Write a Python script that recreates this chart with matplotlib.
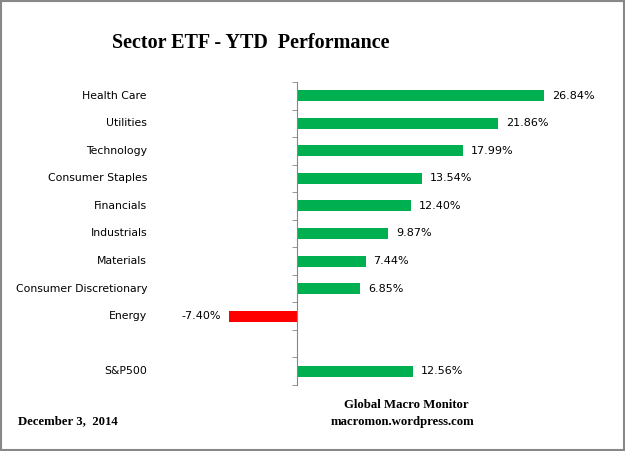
import matplotlib.pyplot as plt
from matplotlib.patches import Rectangle
import matplotlib.transforms as mtransforms

# Data
sectors = ["Health Care", "Utilities", "Technology", "Consumer Staples", "Financials",
           "Industrials", "Materials", "Consumer Discretionary", "Energy"]
sector_ytd = [26.84, 21.86, 17.99, 13.54, 12.40, 9.87, 7.44, 6.85, -7.40]
benchmark = "S&P500"
benchmark_ytd = 12.56

GREEN = "#00B050"
RED = "#FF0000"

fig = plt.figure(figsize=(6.25, 4.51), dpi=100)
ax = fig.add_axes([0.2688, 1 - 385 / 451, 0.6928, 303 / 451])

# one empty slot between the sectors and the benchmark
labels = sectors + ["", benchmark]
values = sector_ytd + [None, benchmark_ytd]
n = len(labels)

for i, (lab, val) in enumerate(zip(labels, values)):
    if val is None:
        continue
    color = GREEN if val >= 0 else RED
    ax.barh(i, val, height=0.4, color=color, zorder=2)
    off = mtransforms.offset_copy(ax.transData, fig=fig, x=8 if val >= 0 else -8, y=0, units="dots")
    ax.text(val, i, f"{val:.2f}%", transform=off, ha="left" if val >= 0 else "right",
            va="center", fontsize=8, family="DejaVu Sans", color="black")
    # category labels sit far left (Excel "low" label position)
    trans = mtransforms.blended_transform_factory(fig.transFigure, ax.transData)
    ax.text(147 / 625, i, lab, transform=trans, ha="right", va="center",
            fontsize=7.8, family="DejaVu Sans", color="black")

ax.set_xlim(-14, 33)
ax.set_ylim(n - 0.5, -0.5)

for side in ["top", "right", "bottom"]:
    ax.spines[side].set_visible(False)
ax.spines["left"].set_position(("data", 0))
ax.spines["left"].set_color("#868686")
ax.set_xticks([])
ax.set_yticks([])
ax.set_yticks([k - 0.5 for k in range(n + 1)], minor=True)
ax.tick_params(axis="y", which="minor", direction="out", length=3.5, color="#868686", labelleft=False)

# titles and footer
fig.text(251 / 625, 1 - 43 / 451, "Sector ETF - YTD  Performance", ha="center", va="center",
         fontsize=14.5, fontweight="bold", family="Liberation Serif")
fig.text(18 / 625, 1 - 421 / 451, "December 3,  2014", ha="left", va="center",
         fontsize=9.2, fontweight="bold", family="Liberation Serif")
fig.text(406 / 625, 1 - 405 / 451, "Global Macro Monitor", ha="center", va="center",
         fontsize=9.2, fontweight="bold", family="Liberation Serif")
fig.text(403 / 625, 1 - 422 / 451, "macromon.wordpress.com", ha="center", va="center",
         fontsize=9.2, fontweight="bold", family="Liberation Serif")

# chart frame
fig.patches.append(Rectangle((0.0016, 0.0022), 0.9968, 0.9956, transform=fig.transFigure,
                             fill=False, edgecolor="#888888", linewidth=1.5))

fig.savefig("out.png", dpi=100)
